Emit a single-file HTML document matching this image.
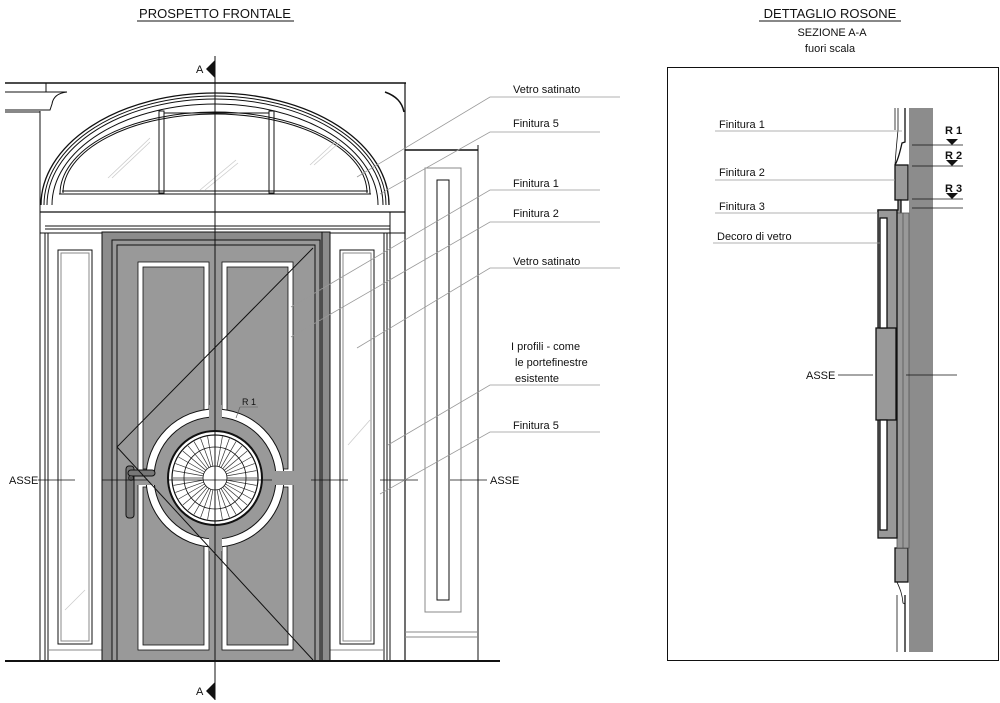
<!DOCTYPE html>
<html><head><meta charset="utf-8"><style>
html,body{margin:0;padding:0;background:#fff}
svg{display:block}
text{font-family:"Liberation Sans",sans-serif;font-size:11px;fill:#111}
</style></head><body>
<svg width="1000" height="703" viewBox="0 0 1000 703" xmlns="http://www.w3.org/2000/svg">
<text x="215" y="18" text-anchor="middle" style="font-size:13px">PROSPETTO FRONTALE</text>
<line x1="137" y1="21" x2="294" y2="21" stroke="#111" stroke-width="1"/>
<text x="830" y="18" text-anchor="middle" style="font-size:13px">DETTAGLIO ROSONE</text>
<line x1="759" y1="21" x2="901" y2="21" stroke="#111" stroke-width="1"/>
<text x="832" y="36" text-anchor="middle">SEZIONE A-A</text>
<text x="830" y="52" text-anchor="middle">fuori scala</text>

<g fill="none" stroke="#111" stroke-width="1">
<line x1="5" y1="83" x2="406" y2="83" stroke-width="1.5"/>
<line x1="5" y1="92" x2="67" y2="92"/>
<line x1="46" y1="83" x2="46" y2="92"/>
<path d="M67 92 C58 93 53 97 52 104 L50 110 L5 110"/>
<line x1="5" y1="112" x2="40" y2="112"/>
<line x1="40" y1="111" x2="40" y2="661"/>
<line x1="405" y1="83" x2="405" y2="661" stroke-width="1.2"/>
<path d="M385 92 C396 96 402 102 404 112" stroke-width="1.5"/>
<path d="M41 205 A174 112 0 0 1 389 205" stroke-width="1.3"/>
<path d="M44 205 A171 109 0 0 1 386 205"/>
<path d="M47 205 A168 106 0 0 1 383 205"/>
<path d="M52 205 A163 101 0 0 1 378 205"/>
<path d="M60 194 A155 82 0 0 1 370 194"/>
<path d="M63 193 A152 79 0 0 1 367 193"/>
<line x1="59" y1="194" x2="371" y2="194"/>
<line x1="62" y1="191" x2="368" y2="191"/>
<rect x="159" y="111" width="5" height="82"/>
<rect x="269" y="111" width="5" height="82"/>
<line x1="164" y1="113" x2="269" y2="113"/>
<line x1="40" y1="212" x2="405" y2="212" stroke-width="1.2"/>
<line x1="45" y1="226" x2="390" y2="226"/>
<line x1="45" y1="229" x2="390" y2="229"/>
<line x1="40" y1="233" x2="405" y2="233"/>
<line x1="390" y1="212" x2="390" y2="661"/>
<line x1="405" y1="150" x2="478" y2="150" stroke-width="1.5"/>
<line x1="478" y1="145" x2="478" y2="661"/>
<rect x="425" y="168" width="36" height="444" stroke="#888"/>
<rect x="437" y="180" width="12" height="420"/>
<line x1="405" y1="632" x2="478" y2="632" stroke="#888"/>
<line x1="405" y1="637" x2="478" y2="637" stroke="#888"/>
<line x1="45" y1="233" x2="45" y2="661"/>
<line x1="48" y1="233" x2="48" y2="661"/>
<rect x="58" y="250" width="34" height="394"/>
<rect x="61" y="253" width="28" height="388" stroke="#888"/>
<line x1="48" y1="650" x2="102" y2="650" stroke="#888"/>
<line x1="384" y1="233" x2="384" y2="661"/>
<line x1="387" y1="233" x2="387" y2="661"/>
<rect x="340" y="250" width="34" height="394"/>
<rect x="343" y="253" width="28" height="388" stroke="#888"/>
<line x1="330" y1="650" x2="384" y2="650" stroke="#888"/>
</g>
<g stroke="#ccc" stroke-width="0.8">
<line x1="108" y1="178" x2="150" y2="138"/><line x1="112" y1="178" x2="150" y2="142"/>
<line x1="200" y1="190" x2="236" y2="160"/><line x1="205" y1="190" x2="238" y2="163"/>
<line x1="310" y1="165" x2="338" y2="139"/><line x1="314" y1="165" x2="340" y2="142"/>
<line x1="65" y1="610" x2="85" y2="590"/><line x1="348" y1="445" x2="370" y2="420"/>
</g>

<rect x="102" y="232" width="228" height="429" fill="#8c8c8c" stroke="#111"/>
<rect x="112" y="240" width="208" height="421" fill="#999" stroke="#111"/>
<rect x="117" y="245" width="198" height="416" fill="#999" stroke="#111"/>
<line x1="322" y1="232" x2="322" y2="661" stroke="#111"/>
<g stroke="#111" stroke-width="0.8">
<rect x="138" y="262" width="71" height="212" fill="#fff"/>
<rect x="143" y="267" width="61" height="202" fill="#999"/>
<rect x="222" y="262" width="71" height="212" fill="#fff"/>
<rect x="227" y="267" width="61" height="202" fill="#999"/>
<rect x="138" y="482" width="71" height="168" fill="#fff"/>
<rect x="143" y="487" width="61" height="158" fill="#999"/>
<rect x="222" y="482" width="71" height="168" fill="#fff"/>
<rect x="227" y="487" width="61" height="158" fill="#999"/>
</g>
<circle cx="215" cy="478" r="69" fill="#999"/>
<circle cx="215" cy="478" r="65" fill="none" stroke="#111" stroke-width="9"/>
<circle cx="215" cy="478" r="65" fill="none" stroke="#fff" stroke-width="7"/>
<rect x="135" y="471" width="162" height="14" fill="#999"/>
<rect x="209" y="405" width="13" height="146" fill="#999"/>
<line x1="215" y1="240" x2="215" y2="661" stroke="#555" stroke-width="0.8"/>
<circle cx="215" cy="478" r="47" fill="#fff" stroke="#111" stroke-width="2"/>
<circle cx="215" cy="478" r="43" fill="#fff" stroke="#111" stroke-width="1.2"/>
<g stroke="#333" stroke-width="0.7">
<path d="M215 436 L215 466 M222.4 436.6 L217.1 466.2 M229.4 438.5 L219.1 466.7 M236 441.6 L221 467.6 M242 445.8 L222.7 468.8 M247.2 451 L224.2 470.3 M251.4 457 L225.4 472 M254.5 463.6 L226.3 473.9 M256.4 470.6 L226.8 475.9 M257 478 L227 478 M256.4 485.4 L226.8 480.1 M254.5 492.4 L226.3 482.1 M251.4 499 L225.4 484 M247.2 505 L224.2 485.7 M242 510.2 L222.7 487.2 M236 514.4 L221 488.4 M229.4 517.5 L219.1 489.3 M222.4 519.4 L217.1 489.8 M215 520 L215 490 M207.6 519.4 L212.9 489.8 M200.6 517.5 L210.9 489.3 M194 514.4 L209 488.4 M188 510.2 L207.3 487.2 M182.8 505 L205.8 485.7 M178.6 499 L204.6 484 M175.5 492.4 L203.7 482.1 M173.6 485.4 L203.2 480.1 M173 478 L203 478 M173.6 470.6 L203.2 475.9 M175.5 463.6 L203.7 473.9 M178.6 457 L204.6 472 M182.8 451 L205.8 470.3 M188 445.8 L207.3 468.8 M194 441.6 L209 467.6 M200.6 438.5 L210.9 466.7 M207.6 436.6 L212.9 466.2"/>
</g>
<circle cx="215" cy="478" r="31" fill="none" stroke="#111" stroke-width="0.8"/>
<circle cx="215" cy="478" r="12" fill="#fff" stroke="#111" stroke-width="0.8"/>
<rect x="126" y="466" width="8" height="52" rx="3" fill="#777" stroke="#111"/>
<rect x="128" y="470" width="27" height="6" rx="3" fill="#777" stroke="#111"/>
<circle cx="131" cy="478" r="2.5" fill="#555" stroke="#111" stroke-width="0.6"/>
<polyline points="313,248 117,447 313,660" fill="none" stroke="#111" stroke-width="1"/>
<text x="242" y="405" style="font-size:9px">R 1</text>
<line x1="240" y1="407" x2="258" y2="407" stroke="#555" stroke-width="0.6"/>
<line x1="240" y1="407" x2="236" y2="418" stroke="#555" stroke-width="0.6"/>

<line x1="215" y1="56" x2="215" y2="700" stroke="#111" stroke-width="1"/>
<polygon points="215,60 215,78 206,69" fill="#111"/>
<polygon points="215,682 215,700 206,691" fill="#111"/>
<text x="196" y="73" style="font-size:11px">A</text>
<text x="196" y="695" style="font-size:11px">A</text>
<line x1="5" y1="661" x2="500" y2="661" stroke="#111" stroke-width="2"/>
<text x="9" y="484">ASSE</text>
<text x="490" y="484">ASSE</text>
<g stroke="#111" stroke-width="0.8">
<line x1="38" y1="480" x2="75" y2="480"/>
<line x1="102" y1="480" x2="148" y2="480"/>
<line x1="168" y1="480" x2="272" y2="480"/>
<line x1="311" y1="480" x2="348" y2="480"/>
<line x1="380" y1="480" x2="418" y2="480"/>
<line x1="450" y1="480" x2="487" y2="480"/>
</g>
<g stroke="#999" stroke-width="0.8" fill="none">
<polyline points="357,177 490,97 620,97"/>
<polyline points="380,194 490,132 600,132"/>
<polyline points="291,307 490,190 600,190"/>
<polyline points="291,337 490,222 600,222"/>
<polyline points="357,348 490,268 620,268"/>
<polyline points="388,445 490,385 600,385"/>
<polyline points="380,494 490,432 600,432"/>
</g>
<text x="513" y="93">Vetro satinato</text>
<text x="513" y="127">Finitura 5</text>
<text x="513" y="187">Finitura 1</text>
<text x="513" y="217">Finitura 2</text>
<text x="513" y="265">Vetro satinato</text>
<text x="511" y="350">I profili - come</text>
<text x="515" y="366">le portefinestre</text>
<text x="515" y="382">esistente</text>
<text x="513" y="429">Finitura 5</text>

<rect x="667.5" y="67.5" width="331" height="593" fill="none" stroke="#111"/>
<rect x="909" y="108" width="24" height="544" fill="#8c8c8c"/>
<g stroke="#111" fill="none" stroke-width="0.8">
<line x1="895" y1="108" x2="895" y2="130"/>
<line x1="898" y1="108" x2="898" y2="130"/>
<path d="M905 108 L905 142 L902 143 C900 152 898 160 895 165" stroke-width="1.3"/>
<path d="M898 130 C897 140 896 150 895 165"/>
<line x1="905" y1="595" x2="905" y2="652" stroke-width="1.3"/>
<line x1="897" y1="595" x2="897" y2="652"/>
<path d="M905 604 L903 603 C902 592 899 587 897 582"/>
</g>
<g stroke="#111" stroke-width="1.3" fill="#999">
<rect x="895" y="165" width="13" height="35"/>
<rect x="895" y="548" width="13" height="34"/>
<path d="M898 200 L901 200 L901 218 L897 218 L897 213 L878 213 L878 210 L898 210 Z"/>
</g>
<rect x="897" y="213" width="12" height="335" fill="#999" stroke="#555" stroke-width="0.8"/>
<line x1="903" y1="213" x2="903" y2="548" stroke="#555" stroke-width="0.8"/>
<rect x="878" y="210" width="19" height="328" fill="#999" stroke="#111" stroke-width="1.3"/>
<rect x="876" y="328" width="20" height="92" fill="#999" stroke="#111" stroke-width="1.3"/>
<rect x="880" y="218" width="7" height="110" fill="#fff" stroke="#111" stroke-width="1.3"/>
<rect x="880" y="420" width="7" height="110" fill="#fff" stroke="#111" stroke-width="1.3"/>
<g stroke="#111" stroke-width="0.8">
<line x1="912" y1="145" x2="963" y2="145"/>
<line x1="912" y1="166" x2="963" y2="166"/>
<line x1="912" y1="199" x2="963" y2="199"/>
<line x1="912" y1="208" x2="963" y2="208"/>
</g>
<polygon points="946,139 958,139 952,145" fill="#111"/>
<polygon points="946,160 958,160 952,166" fill="#111"/>
<polygon points="946,193 958,193 952,199" fill="#111"/>
<text x="945" y="134" style="font-weight:bold;font-size:11px">R 1</text>
<text x="945" y="159" style="font-weight:bold;font-size:11px">R 2</text>
<text x="945" y="192" style="font-weight:bold;font-size:11px">R 3</text>
<g stroke="#999" stroke-width="0.8">
<line x1="715" y1="131" x2="902" y2="131"/>
<line x1="715" y1="180" x2="895" y2="180"/>
<line x1="715" y1="213" x2="878" y2="213"/>
<line x1="713" y1="243" x2="880" y2="243"/>
</g>
<text x="719" y="128">Finitura 1</text>
<text x="719" y="176">Finitura 2</text>
<text x="719" y="210">Finitura 3</text>
<text x="717" y="240">Decoro di vetro</text>
<text x="806" y="379">ASSE</text>
<line x1="838" y1="375" x2="873" y2="375" stroke="#111" stroke-width="0.8"/>
<line x1="906" y1="375" x2="957" y2="375" stroke="#111" stroke-width="0.8"/>
</svg>
</body></html>
